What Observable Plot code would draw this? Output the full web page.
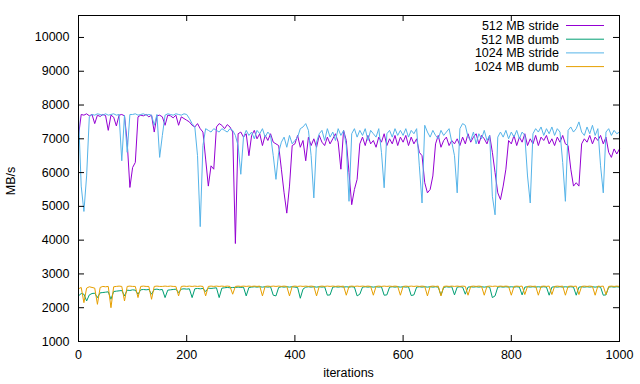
<!DOCTYPE html>
<html><head><meta charset="utf-8">
<script src="https://cdn.jsdelivr.net/npm/d3@7"></script>
<script src="https://cdn.jsdelivr.net/npm/@observablehq/plot@0.6"></script>
<style>
body{margin:0;background:#fff;}
#chart{position:relative;width:640px;height:384px;}
</style></head><body><div id="chart"></div>
<script>
const seriesNames = ["512 MB stride", "512 MB dumb", "1024 MB stride", "1024 MB dumb"];
const seriesColors = ["#9400d3", "#009e73", "#56b4e9", "#e69f00"];
const iterStep = 5; // one reading every 5 iterations
const xTicks = [0, 200, 400, 600, 800, 1000];
const yTicks = [1000, 2000, 3000, 4000, 5000, 6000, 7000, 8000, 9000, 10000];

const stride512 = [
 7080,7720,7700,7740,7680,7720,7450,7700,7660,7720,7690,7250,7700,7640,7380,7700,7720,7680,6900,5560,
 6150,6300,7650,7700,7680,7720,7650,7700,7200,7680,7700,7650,7400,7700,7680,7620,7700,7400,7650,7600,
 7550,7500,7400,7350,7450,7300,7200,6400,5600,6200,6100,7350,7450,7400,7300,7420,7350,7200,3900,7150,
 7200,7050,7150,6500,7100,7250,7000,7150,6800,7100,6950,7150,6900,6850,6800,6100,5400,4800,5600,6800,
 6850,7100,6750,6950,6350,7050,6800,7000,6750,7100,6900,6800,7050,6850,7000,7150,6900,6100,7250,6950,
 6000,5050,5500,5800,6850,7050,6800,7100,6850,6950,6750,7050,6900,7150,6800,7000,6850,7100,6800,7050,
 6900,7100,6800,7050,6850,7000,6600,6500,5700,5400,5500,5900,6850,7100,6750,6950,7050,6800,6950,6850,
 7000,6800,7050,6850,7150,6900,7050,7150,6850,7100,7000,6850,7100,6600,6000,5400,5200,5600,6100,6950,
 6850,7100,6800,7050,6900,7150,6800,7000,6850,7100,6800,7050,6950,7100,6850,7000,6800,7050,6900,7100,
 6850,6800,6100,5600,5700,5600,6850,7000,6900,7100,6850,7050,6950,7100,6850,7050,6600,6450,6700,6550,6700
];
const dumb512 = [
 2350,2420,2400,2200,2380,2420,2430,2300,2440,2450,2460,2470,2250,2480,2490,2500,2510,2350,2520,2510,
 2530,2520,2400,2530,2540,2530,2540,2400,2540,2550,2530,2540,2300,2520,2530,2540,2550,2450,2550,2560,
 2550,2560,2300,2560,2570,2560,2570,2480,2580,2570,2580,2590,2300,2580,2590,2600,2590,2600,2600,2610,
 2600,2610,2350,2600,2610,2620,2610,2620,2610,2620,2610,2620,2370,2350,2600,2620,2610,2620,2610,2620,
 2610,2600,2280,2550,2610,2620,2610,2620,2610,2620,2610,2620,2370,2380,2610,2620,2610,2620,2610,2620,
 2610,2620,2610,2350,2400,2610,2620,2610,2620,2610,2620,2610,2620,2370,2380,2610,2620,2610,2620,2610,
 2620,2610,2620,2360,2380,2610,2620,2610,2620,2610,2620,2610,2620,2610,2370,2600,2620,2610,2620,2380,
 2610,2620,2610,2400,2610,2620,2610,2620,2610,2620,2610,2620,2610,2300,2350,2610,2620,2610,2620,2610,
 2620,2610,2620,2610,2380,2610,2620,2610,2620,2610,2620,2610,2620,2610,2370,2610,2620,2610,2620,2610,
 2620,2610,2620,2610,2370,2610,2620,2610,2620,2610,2620,2610,2620,2610,2370,2380,2610,2620,2610,2620,2610
];
const stride1024 = [
 7700,5600,4850,5900,7650,7720,7700,7740,7720,7700,7740,7700,7720,7740,7700,7720,6350,7700,6600,7720,
 7720,7740,7700,7720,7740,7700,7720,7700,7400,7720,6450,7100,7700,7740,7720,7700,7740,7720,7700,7740,
 7720,7600,7450,7350,6500,4400,6800,7300,7250,7200,7300,7250,7200,7300,7250,7200,7300,7250,7100,6800,
 5950,7050,7250,7100,7200,7000,7250,7150,7300,7050,7200,7100,6500,5800,6600,6900,7050,6750,7100,6850,
 6950,7050,7300,7350,7450,7250,6500,5250,6900,7150,7250,6950,7300,7050,7200,6950,7300,7100,7250,6800,
 5150,7150,7300,7050,7250,7100,7300,6950,7250,7150,7050,7300,6600,5550,7150,7250,7050,7300,7100,7250,
 7100,7300,7050,7250,7150,7300,6200,5100,7400,7200,7050,7250,7100,7000,7250,7100,7200,7300,6900,6500,
 5400,7300,7450,7400,7050,6950,7200,6850,7150,7000,7250,6950,7100,5300,4750,7050,7200,7050,7250,7000,
 7200,7050,7250,7000,7200,7100,5900,5100,7150,7300,7200,7350,7100,7300,7150,7350,7100,7300,7200,6300,
 5150,7250,7350,7200,7300,7500,7200,7100,7350,7150,7400,7100,7300,6200,5400,7200,7300,7100,7250,7150,7200
];
const dumb1024 = [
 2560,2600,2150,2580,2620,2600,2580,2100,2600,2630,2620,2630,2000,2620,2630,2640,2630,2200,2630,2640,
 2630,2630,2300,2630,2640,2630,2630,2250,2630,2640,2630,2630,2640,2630,2640,2630,2630,2350,2630,2640,
 2630,2640,2630,2640,2630,2640,2630,2350,2630,2640,2630,2640,2630,2640,2630,2640,2630,2400,2630,2640,
 2630,2640,2630,2640,2630,2640,2630,2640,2350,2630,2640,2630,2640,2630,2640,2630,2640,2630,2350,2630,
 2640,2630,2640,2630,2640,2630,2640,2630,2350,2630,2640,2630,2640,2630,2640,2630,2640,2630,2640,2370,
 2630,2640,2630,2640,2630,2640,2630,2640,2630,2370,2630,2640,2630,2640,2630,2640,2630,2640,2630,2370,
 2630,2640,2630,2640,2630,2640,2630,2640,2630,2350,2630,2640,2630,2640,2350,2630,2640,2630,2640,2630,
 2640,2630,2640,2630,2370,2630,2640,2630,2640,2630,2370,2630,2640,2630,2640,2630,2640,2630,2640,2630,
 2370,2630,2640,2630,2640,2390,2630,2640,2630,2640,2370,2630,2640,2630,2640,2390,2630,2640,2630,2640,
 2370,2630,2640,2630,2640,2390,2630,2640,2630,2640,2630,2370,2640,2630,2640,2390,2630,2640,2630,2640,2630
];

const seriesValues = [stride512, dumb512, stride1024, dumb1024];
const rows = [];
seriesValues.forEach((vals, s) => vals.forEach((v, i) => rows.push({series: seriesNames[s], iteration: i * iterStep, value: v})));

const W = 640, H = 384, mL = 78, mR = 21, mT = 15, mB = 43;
const innerW = W - mL - mR, innerH = H - mT - mB;
const tickLen = 6;
const font = "'Liberation Sans', Arial, Helvetica, sans-serif";

const chart = Plot.plot({
  width: W, height: H,
  marginLeft: mL, marginRight: mR, marginTop: mT, marginBottom: mB,
  style: {fontFamily: font, fontSize: "12.5px", color: "#000", background: "#fff", overflow: "visible"},
  x: {domain: [0, 1000]},
  y: {domain: [1000, 10650]},
  color: {domain: seriesNames, range: seriesColors},
  marks: [
    Plot.lineY(rows, {x: "iteration", y: "value", z: "series", stroke: "series", strokeWidth: 1}),
    Plot.tickY(yTicks, {y: d => d, insetRight: innerW - tickLen, stroke: "#000"}),
    Plot.tickY(yTicks, {y: d => d, insetLeft: innerW - tickLen, stroke: "#000"}),
    Plot.tickX(xTicks, {x: d => d, insetTop: innerH - tickLen, stroke: "#000"}),
    Plot.tickX(xTicks, {x: d => d, insetBottom: innerH - tickLen, stroke: "#000"}),
    Plot.axisX({ticks: xTicks, tickSize: 0, tickPadding: 9, label: null, tickFormat: d => String(d)}),
    Plot.axisY({ticks: yTicks, tickSize: 0, tickPadding: 9, label: null, tickFormat: d => String(d)}),
    Plot.frame({stroke: "#000", strokeWidth: 1})
  ]
});

const svg = d3.select(chart);
svg.append("text").attr("transform", "translate(15,181) rotate(-90)")
  .attr("text-anchor", "middle").attr("font-family", font).attr("font-size", "12.5px").attr("fill", "#000").text("MB/s");
svg.append("text").attr("x", mL + innerW / 2).attr("y", 377)
  .attr("text-anchor", "middle").attr("font-family", font).attr("font-size", "12.5px").attr("fill", "#000").text("iterations");

const leg = svg.append("g");
seriesNames.forEach((name, i) => {
  const cy = 25.5 + i * 13.7;
  leg.append("text").attr("x", 559).attr("y", cy + 4.5).attr("text-anchor", "end")
    .attr("font-family", font).attr("font-size", "12.5px").attr("fill", "#000").text(name);
  leg.append("line").attr("x1", 566).attr("x2", 604).attr("y1", cy).attr("y2", cy)
    .attr("stroke", seriesColors[i]).attr("stroke-width", 1);
});

document.getElementById("chart").appendChild(chart);
</script>
</body></html>
